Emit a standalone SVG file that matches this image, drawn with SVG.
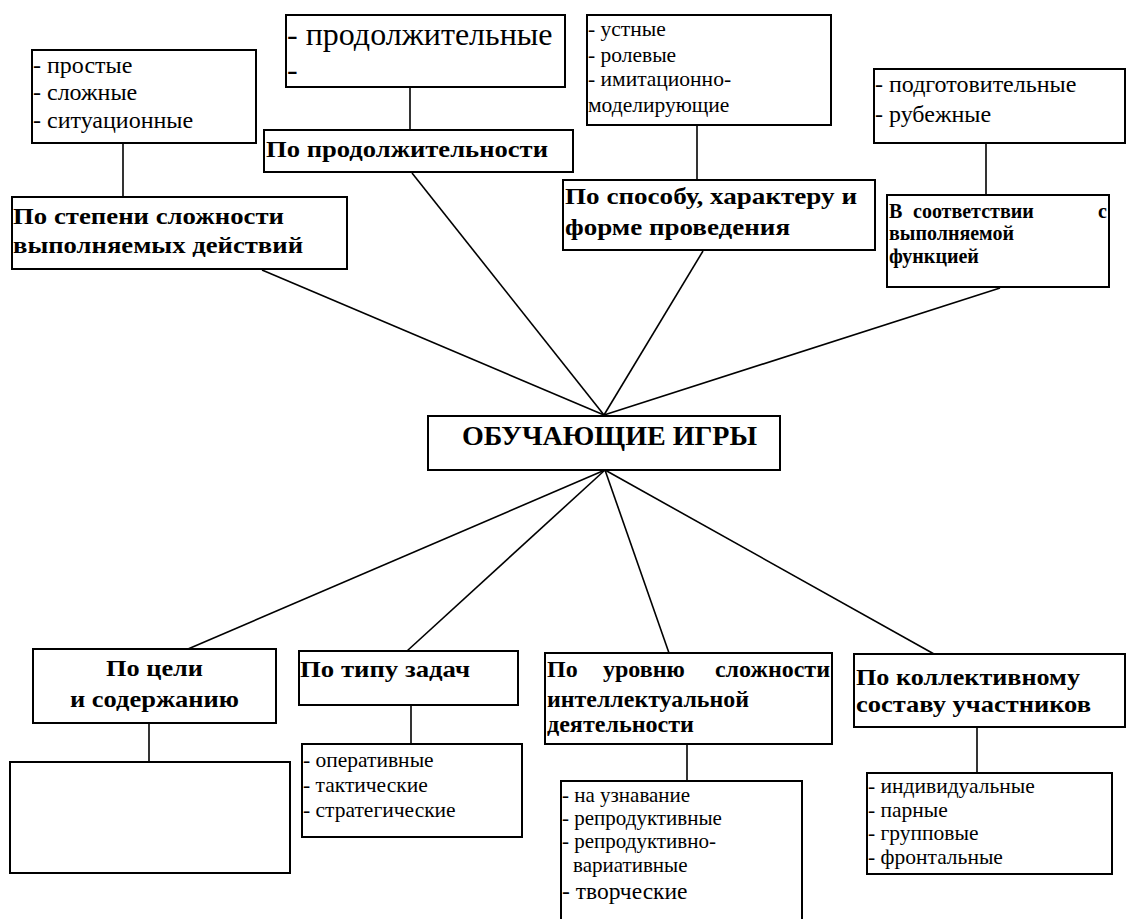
<svg xmlns="http://www.w3.org/2000/svg" width="1126" height="919" viewBox="0 0 1126 919">
<style>
rect{fill:#fff;stroke:#000;stroke-width:2}
line{stroke:#000;stroke-width:1.6}
text{font-family:'Liberation Serif','DejaVu Serif',serif;fill:#000}
.b{font-size:24px;font-weight:bold}
.bs{font-size:20px;font-weight:bold}
</style>
<g id="connectors">
<line x1="123" y1="143" x2="123" y2="197"/>
<line x1="410" y1="87" x2="410" y2="130"/>
<line x1="697" y1="125" x2="697" y2="180"/>
<line x1="986" y1="143" x2="986" y2="195"/>
<line x1="262" y1="270" x2="604" y2="415"/>
<line x1="412" y1="173" x2="604" y2="415"/>
<line x1="703" y1="251" x2="604" y2="415"/>
<line x1="1000" y1="288" x2="604" y2="415"/>
<line x1="605" y1="470" x2="188" y2="649"/>
<line x1="605" y1="470" x2="407" y2="651"/>
<line x1="605" y1="470" x2="669" y2="653"/>
<line x1="605" y1="470" x2="934" y2="654"/>
<line x1="149" y1="723" x2="149" y2="762"/>
<line x1="411" y1="705" x2="411" y2="744"/>
<line x1="687" y1="744" x2="687" y2="781"/>
<line x1="977" y1="727" x2="977" y2="773"/>
</g>
<g id="n-simple">
<rect x="32" y="50" width="224" height="93"/>
<text x="33" y="73" style="font-size:24px">- простые</text>
<text x="33" y="100" style="font-size:24px">- сложные</text>
<text x="33" y="128" style="font-size:24px">- ситуационные</text>
</g>
<g id="n-complexity">
<rect x="12" y="197" width="335" height="72"/>
<text class="b" x="13" y="224" textLength="271" lengthAdjust="spacingAndGlyphs">По степени сложности</text>
<text class="b" x="13" y="253" textLength="290" lengthAdjust="spacingAndGlyphs">выполняемых действий</text>
</g>
<g id="n-long">
<rect x="286" y="15" width="279" height="72"/>
<text x="287" y="45" style="font-size:32px">- продолжительные</text>
<text x="287" y="80" style="font-size:32px">-</text>
</g>
<g id="n-duration">
<rect x="264" y="130" width="309" height="42"/>
<text class="b" x="266" y="157" textLength="282" lengthAdjust="spacingAndGlyphs">По продолжительности</text>
</g>
<g id="n-oral">
<rect x="587" y="15" width="244" height="110"/>
<text x="588" y="36" style="font-size:21.5px">- устные</text>
<text x="588" y="62" style="font-size:21.5px">- ролевые</text>
<text x="588" y="86" style="font-size:21.5px">- имитационно-</text>
<text x="588" y="112" style="font-size:21.5px">моделирующие</text>
</g>
<g id="n-method">
<rect x="563" y="180" width="312" height="70"/>
<text class="b" x="565" y="204" textLength="292" lengthAdjust="spacingAndGlyphs">По способу, характеру и</text>
<text class="b" x="565" y="235" textLength="225" lengthAdjust="spacingAndGlyphs">форме проведения</text>
</g>
<g id="n-prep">
<rect x="874" y="69" width="251" height="74"/>
<text x="875" y="92" style="font-size:24px">- подготовительные</text>
<text x="875" y="122" style="font-size:24px">- рубежные</text>
</g>
<g id="n-function">
<rect x="887" y="195" width="222" height="92"/>
<text class="bs" x="889" y="218">В</text>
<text class="bs" x="913" y="218">соответствии</text>
<text class="bs" x="1107" y="218" text-anchor="end">с</text>
<text class="bs" x="889" y="240">выполняемой</text>
<text class="bs" x="889" y="263">функцией</text>
</g>
<g id="n-center">
<rect x="428" y="416" width="352" height="54"/>
<text x="462" y="445" style="font-size:28px;font-weight:bold" textLength="295" lengthAdjust="spacingAndGlyphs">ОБУЧАЮЩИЕ ИГРЫ</text>
</g>
<g id="n-goal">
<rect x="33" y="649" width="243" height="74"/>
<text class="b" x="106" y="676" textLength="97" lengthAdjust="spacingAndGlyphs">По цели</text>
<text class="b" x="70" y="707" textLength="169" lengthAdjust="spacingAndGlyphs">и содержанию</text>
</g>
<g id="n-empty">
<rect x="10" y="762" width="280" height="111"/>
</g>
<g id="n-tasks">
<rect x="299" y="651" width="219" height="54"/>
<text class="b" x="300" y="677" textLength="170" lengthAdjust="spacingAndGlyphs">По типу задач</text>
</g>
<g id="n-operative">
<rect x="302" y="744" width="220" height="93"/>
<text x="303" y="767" style="font-size:21.5px">- оперативные</text>
<text x="303" y="792" style="font-size:21.5px">- тактические</text>
<text x="303" y="817" style="font-size:21.5px">- стратегические</text>
</g>
<g id="n-intellect">
<rect x="545" y="653" width="287" height="91"/>
<text class="b" x="547" y="677">По</text>
<text class="b" x="603" y="677">уровню</text>
<text class="b" x="830" y="677" text-anchor="end">сложности</text>
<text class="b" x="547" y="707" textLength="202" lengthAdjust="spacingAndGlyphs">интеллектуальной</text>
<text class="b" x="547" y="732" textLength="147" lengthAdjust="spacingAndGlyphs">деятельности</text>
</g>
<g id="n-recog">
<rect x="561" y="781" width="241" height="150"/>
<text x="562" y="802" style="font-size:21px">- на узнавание</text>
<text x="562" y="825" style="font-size:21px">- репродуктивные</text>
<text x="562" y="848" style="font-size:21px">- репродуктивно-</text>
<text x="573" y="872" style="font-size:21px">вариативные</text>
<text x="562" y="899" style="font-size:23.5px">- творческие</text>
</g>
<g id="n-collective">
<rect x="854" y="654" width="271" height="73"/>
<text class="b" x="856" y="685" textLength="224" lengthAdjust="spacingAndGlyphs">По коллективному</text>
<text class="b" x="856" y="712" textLength="235" lengthAdjust="spacingAndGlyphs">составу участников</text>
</g>
<g id="n-individual">
<rect x="867" y="773" width="245" height="101"/>
<text x="868" y="793" style="font-size:21.5px">- индивидуальные</text>
<text x="868" y="817" style="font-size:21.5px">- парные</text>
<text x="868" y="840" style="font-size:21.5px">- групповые</text>
<text x="868" y="864" style="font-size:21.5px">- фронтальные</text>
</g>
</svg>
